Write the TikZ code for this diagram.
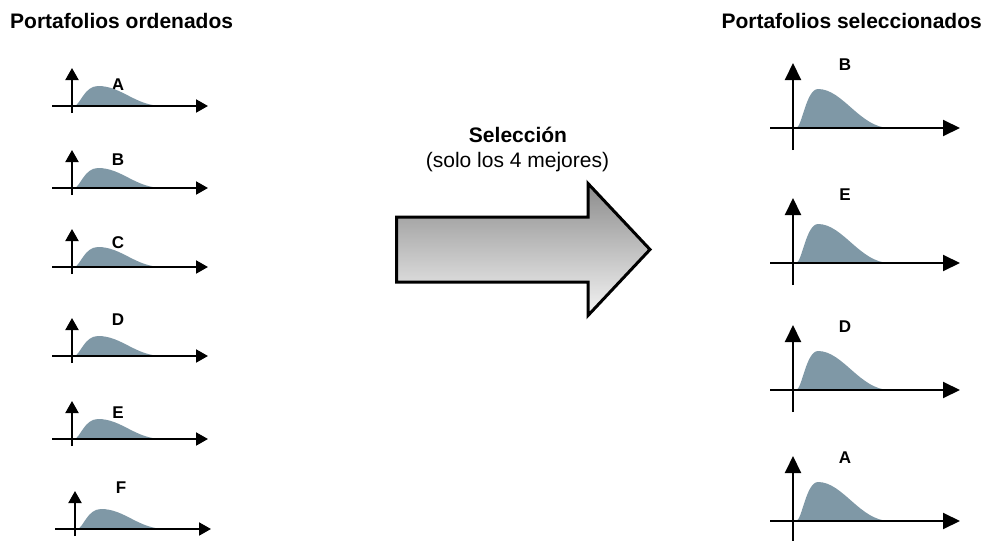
\documentclass[tikz,border=0pt]{standalone}
\usepackage{fontspec}
\setmainfont{Liberation Sans}
\usepackage{xcolor}
\usetikzlibrary{arrows.meta}
\definecolor{curveblue}{RGB}{127,152,166}
\definecolor{arrowtop}{RGB}{140,140,140}
\definecolor{arrowbottom}{RGB}{244,244,244}

\begin{document}
\begin{tikzpicture}[x=1pt, y=-1pt,
    axis/.style={line width=2pt},
    smallaxis/.style={axis, -{Triangle[length=12pt, width=13pt]}},
    bigaxis/.style={axis, -{Triangle[length=17pt, width=16pt]}},
    letter/.style={font=\fontsize{17}{20}\selectfont\bfseries, inner sep=0pt},
    title/.style={font=\fontsize{21}{25}\selectfont\bfseries, inner sep=0pt}]
  \useasboundingbox (0,0) rectangle (989,541);

  % Titles
  \node[title, anchor=base west] (ordenados) at (10,28) {Portafolios ordenados};
  \node[title, anchor=base east] (seleccionados) at (982,28) {Portafolios seleccionados};

  % Ordered portfolios
  \foreach \l/\ay/\ly/\ox in {A/106/85/72,B/188/160/72,C/267/243/72,D/356/320/72,E/439/413/72,F/529/488/75} {
    \node[letter] (izq\l) at (\ox+46,\ly) {\l};
    \fill[curveblue] (\ox+2,\ay) .. controls (\ox+8,\ay) and (\ox+12,\ay-20) .. (\ox+26,\ay-20)
      .. controls (\ox+50,\ay-20) and (\ox+63,\ay) .. (\ox+91,\ay) -- cycle;
    \draw[smallaxis] (\ox-20,\ay) -- (\ox+136,\ay);
    \draw[smallaxis] (\ox,\ay+7) -- (\ox,\ay-38);
  }

  % Selection arrow
  \draw[line width=3pt, line join=miter, top color=arrowtop, bottom color=arrowbottom]
    (396.5,217) -- (588,217) -- (588,183.5) -- (650,249.5) -- (588,315.5)
    -- (588,282) -- (396.5,282) -- cycle;
  \node[font=\fontsize{21}{25}\selectfont\bfseries, inner sep=0pt, anchor=base] (seleccion) at (518,142) {Selección};
  \node[font=\fontsize{21}{25}\selectfont, inner sep=0pt, anchor=base] (criterio) at (517.5,167) {(solo los 4 mejores)};

  % Selected portfolios
  \foreach \l/\ay/\ly in {B/128/65,E/263/195,D/390/327,A/521/458} {
    \node[letter] (der\l) at (845,\ly) {\l};
    \fill[curveblue] (796,\ay) .. controls (802,\ay) and (806,\ay-39) .. (818,\ay-39)
      .. controls (843,\ay-39) and (860,\ay) .. (890,\ay) -- cycle;
    \draw[bigaxis] (770,\ay) -- (960,\ay);
    \draw[bigaxis] (793,\ay+22) -- (793,\ay-65);
  }
\end{tikzpicture}
\end{document}
